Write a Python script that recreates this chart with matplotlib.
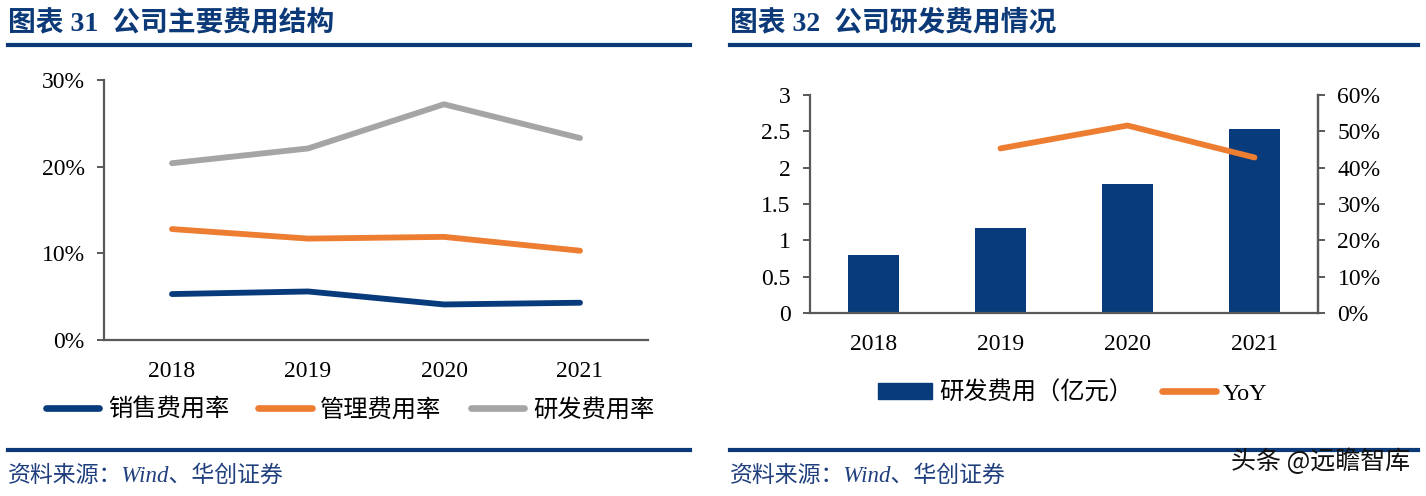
import numpy as np
import matplotlib
matplotlib.use("Agg")
import matplotlib.pyplot as plt
from matplotlib.lines import Line2D
from matplotlib.patches import Patch

plt.rcParams['font.family'] = ['Liberation Serif', 'Noto Sans CJK SC', 'DejaVu Sans']

years = ['2018', '2019', '2020', '2021']
sales_rate = [5.3, 5.6, 4.1, 4.3]
admin_rate = [12.8, 11.7, 11.9, 10.3]
rd_rate = [20.4, 22.1, 27.2, 23.3]
rd_cost = [0.80, 1.17, 1.77, 2.53]
rd_yoy = [None, 45.3, 51.6, 42.8]
series_names = ['销售费用率', '管理费用率', '研发费用率']

navy = '#073b7b'
orange = '#ed7d31'
gray = '#a5a5a5'
axis_col = '#595959'
title_col = '#0c3a78'

fig = plt.figure(figsize=(14.26, 4.96), dpi=100)
W, H = 1426, 496


def fx(px):
    return px / W


def fy(py):
    return 1 - py / H


# titles, rules and sources
for x0, x1, title in [(8, 690, '图表 31  公司主要费用结构'), (730, 1418, '图表 32  公司研发费用情况')]:
    fig.text(fx(x0), fy(23), title, fontsize=20, fontweight='bold', color=title_col,
             va='center', ha='left')
    fig.add_artist(Line2D([fx(x0), fx(x1)], [fy(45), fy(45)], color=title_col, lw=3))
    fig.add_artist(Line2D([fx(x0), fx(x1)], [fy(450), fy(450)], color=title_col, lw=3))
    fig.text(fx(x0), fy(476), '资料来源：Wind、华创证券', fontsize=16.5, style='italic',
             color='#1f3f7f', va='center', ha='left')

fig.text(fx(1410), fy(462), '头条 @远瞻智库', fontsize=18, color='#111111',
         family=['Noto Sans CJK SC'], ha='right', va='center')

x = np.arange(len(years))

# left chart
ax1 = fig.add_axes([fx(104), fy(340), fx(648) - fx(104), fy(80) - fy(340)])
for vals, c in zip([sales_rate, admin_rate, rd_rate], [navy, orange, gray]):
    ax1.plot(x, vals, color=c, lw=4.2, solid_capstyle='round')
ax1.set_xlim(-0.5, 3.5)
ax1.set_ylim(0, 30)
ax1.set_yticks([0, 10, 20, 30])
ax1.set_yticklabels(['0%', '10%', '20%', '30%'])
ax1.set_xticks(x)
ax1.set_xticklabels(years)
for s in ['top', 'right']:
    ax1.spines[s].set_visible(False)
for s in ['left', 'bottom']:
    ax1.spines[s].set_color(axis_col)
    ax1.spines[s].set_linewidth(1.6)
ax1.tick_params(axis='y', length=5, width=1.4, color=axis_col, pad=9, labelsize=17)
ax1.tick_params(axis='x', length=0, pad=15, labelsize=17)

handles = [Line2D([], [], color=c, lw=4.8, solid_capstyle='round') for c in [navy, orange, gray]]
fig.legend(handles, series_names, loc='center', bbox_to_anchor=(fx(350), fy(410)), ncol=3,
           frameon=False, prop={'family': ['Noto Sans CJK SC'], 'size': 17.5},
           handlelength=2.2, handletextpad=0.35, columnspacing=1.2)

# right chart
ax2 = fig.add_axes([fx(810), fy(313), fx(1318) - fx(810), fy(95) - fy(313)])
ax2.bar(x, rd_cost, width=0.4, color=navy)
ax2.set_xlim(-0.5, 3.5)
ax2.set_ylim(0, 3)
ax2.set_yticks([0, 0.5, 1, 1.5, 2, 2.5, 3])
ax2.set_yticklabels(['0', '0.5', '1', '1.5', '2', '2.5', '3'])
ax2.set_xticks(x)
ax2.set_xticklabels(years)
ax2.spines['top'].set_visible(False)
for s in ['left', 'bottom', 'right']:
    ax2.spines[s].set_color(axis_col)
    ax2.spines[s].set_linewidth(1.6)
ax2.tick_params(axis='y', length=5, width=1.4, color=axis_col, pad=9, labelsize=17)
ax2.tick_params(axis='x', length=0, pad=15, labelsize=17)

ax3 = ax2.twinx()
yoy_x = [i for i, v in zip(x, rd_yoy) if v is not None]
yoy_v = [v for v in rd_yoy if v is not None]
ax3.plot(yoy_x, yoy_v, color=orange, lw=4.2, solid_capstyle='round')
ax3.set_ylim(0, 60)
ax3.set_yticks([0, 10, 20, 30, 40, 50, 60])
ax3.set_yticklabels([f'{v}%' for v in range(0, 70, 10)])
for s in ['top', 'left', 'bottom']:
    ax3.spines[s].set_visible(False)
ax3.spines['right'].set_color(axis_col)
ax3.spines['right'].set_linewidth(1.6)
ax3.tick_params(axis='y', length=5, width=1.4, color=axis_col, pad=9, labelsize=17)

h2 = [Patch(color=navy), Line2D([], [], color=orange, lw=4.8, solid_capstyle='round')]
fig.legend(h2, ['研发费用（亿元）', 'YoY'], loc='center', bbox_to_anchor=(fx(1073), fy(393)), ncol=2,
           frameon=False, prop={'family': ['Liberation Serif', 'Noto Sans CJK SC'], 'size': 17.5},
           handlelength=2.2, handleheight=0.6, handletextpad=0.3, columnspacing=1.2)

fig.savefig('out.png', dpi=100)
